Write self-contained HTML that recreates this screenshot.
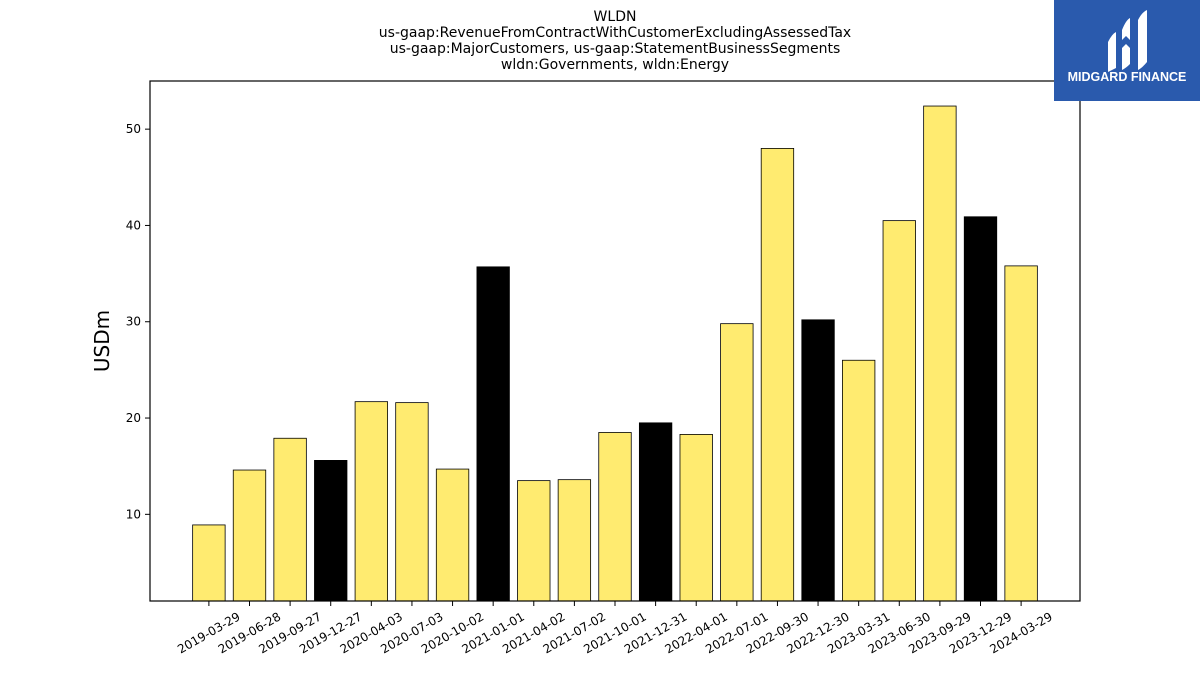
<!DOCTYPE html>
<html><head><meta charset="utf-8"><style>
body{margin:0;background:#fff;width:1200px;height:675px;overflow:hidden;font-family:"Liberation Sans","DejaVu Sans",sans-serif}
</style></head><body>
<svg id="chart" width="1200" height="675" xmlns="http://www.w3.org/2000/svg" font-family="DejaVu Sans, Liberation Sans, sans-serif">
<rect width="1200" height="675" fill="#fff"/>
<g font-size="14" text-anchor="middle" fill="#000">
<text x="615" y="21">WLDN</text>
<text x="615" y="37">us-gaap:RevenueFromContractWithCustomerExcludingAssessedTax</text>
<text x="615" y="53">us-gaap:MajorCustomers, us-gaap:StatementBusinessSegments</text>
<text x="615" y="69">wldn:Governments, wldn:Energy</text>
</g>
<g id="bars"></g>
<g id="xticks"></g>
<g id="yticks"></g>
<rect x="150" y="81" width="930" height="520" fill="none" stroke="#000" stroke-width="1.2"/>
<text x="0" y="0" font-size="20" text-anchor="middle" transform="translate(109,341) rotate(-90)">USDm</text>
<g>
<rect x="1054" y="0" width="146" height="101" fill="#2a5aad"/>
<path d="M1108 42 Q1112 34 1116 32 L1116 68 Q1112 70 1108 72 Z" fill="#fff"/>
<path d="M1122 30 Q1126 20 1130 18 L1130 40 L1126 36 L1122 40 Z" fill="#fff"/>
<path d="M1122 48 L1126 44 L1130 48 L1130 64 Q1126 68 1122 70 Z" fill="#fff"/>
<path d="M1138 20 Q1142 12 1147 10 L1147 62 Q1142 68 1138 70 Z" fill="#fff"/>
<text x="1127" y="81" font-size="12.5" font-weight="bold" fill="#fff" text-anchor="middle" font-family="Liberation Sans, sans-serif">MIDGARD FINANCE</text>
</g>
</svg>
<script>
const categories=["2019-03-29","2019-06-28","2019-09-27","2019-12-27","2020-04-03","2020-07-03","2020-10-02","2021-01-01","2021-04-02","2021-07-02","2021-10-01","2021-12-31","2022-04-01","2022-07-01","2022-09-30","2022-12-30","2023-03-31","2023-06-30","2023-09-29","2023-12-29","2024-03-29"];
const values=[8.9,14.6,17.9,15.6,21.7,21.6,14.7,35.7,13.5,13.6,18.5,19.5,18.3,29.8,48.0,30.2,26.0,40.5,52.4,40.9,35.8];
const highlighted=[false,false,false,true,false,false,false,true,false,false,false,true,false,false,false,true,false,false,false,true,false];
const yTicks=[10,20,30,40,50];
const NS="http://www.w3.org/2000/svg";
const L=150,R=1080,T=81,B=601,YMIN=1,YMAX=55,XMIN=-1.45,XMAX=categories.length-1+1.45;
const xs=i=>L+(i-XMIN)/(XMAX-XMIN)*(R-L);
const ys=v=>B-(v-YMIN)/(YMAX-YMIN)*(B-T);
const bw=0.8*(R-L)/(XMAX-XMIN);
const gb=document.getElementById('bars'),gx=document.getElementById('xticks'),gy=document.getElementById('yticks');
values.forEach((v,i)=>{
 const r=document.createElementNS(NS,'rect');
 
 
 r.setAttribute('x',xs(i)-bw/2);r.setAttribute('width',bw);
 r.setAttribute('y',ys(v));r.setAttribute('height',B-ys(v));
 r.setAttribute('fill',highlighted[i]?'#000':'#ffeb70');
 r.setAttribute('stroke','#000');r.setAttribute('stroke-width','0.8');
 gb.appendChild(r);
 const t=document.createElementNS(NS,'line');
 
 
 t.setAttribute('x1',xs(i));t.setAttribute('x2',xs(i));t.setAttribute('y1',B);t.setAttribute('y2',B+5);
 t.setAttribute('stroke','#000');gx.appendChild(t);
 const lb=document.createElementNS(NS,'text');
 
 
 lb.setAttribute('font-size','12');lb.setAttribute('text-anchor','middle');lb.setAttribute('dominant-baseline','central');
 lb.setAttribute('transform','translate('+xs(i)+',633) rotate(-30)');
 lb.textContent=categories[i];gx.appendChild(lb);
});
yTicks.forEach(v=>{
 const t=document.createElementNS(NS,'line');
 
 
 t.setAttribute('x1',L-5);t.setAttribute('x2',L);t.setAttribute('y1',ys(v));t.setAttribute('y2',ys(v));
 t.setAttribute('stroke','#000');gy.appendChild(t);
 const lb=document.createElementNS(NS,'text');
 
 
 lb.setAttribute('font-size','12');lb.setAttribute('text-anchor','end');lb.setAttribute('dominant-baseline','central');
 lb.setAttribute('x',L-9);lb.setAttribute('y',ys(v));
 lb.textContent=v;gy.appendChild(lb);
});
</script>
</body></html>
